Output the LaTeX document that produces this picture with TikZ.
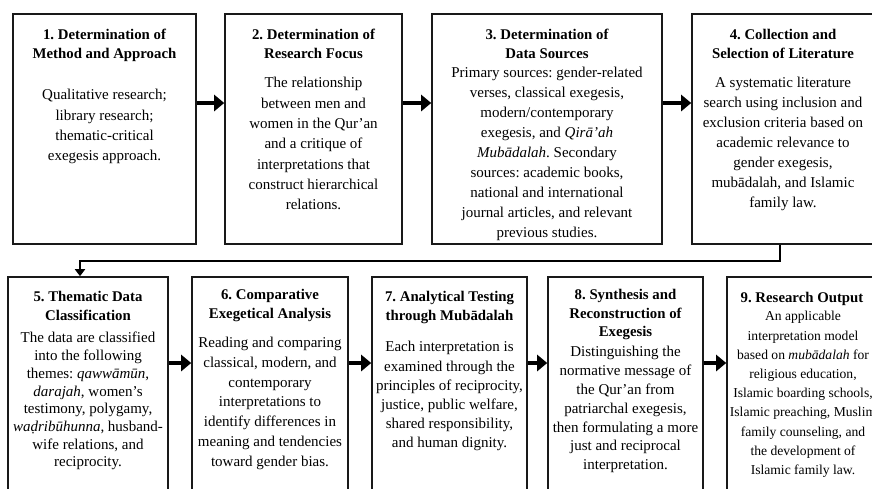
\documentclass[tikz,border=0pt]{standalone}
\usepackage{fontspec}
\setmainfont{Liberation Serif}
\usetikzlibrary{arrows.meta}
\frenchspacing

\tikzset{
    stagebox/.style={draw=black!90, line width=1.6pt, inner sep=0pt},
    stagetitle/.style={anchor=north, align=center, inner sep=0pt, font=\bfseries\fontsize{14.8}{18.5}\selectfont},
    stagetext/.style={anchor=north, align=center, inner sep=0pt, font=\fontsize{15}{20.3}\selectfont},
    flowarrow/.style={line width=3.5pt, -{Triangle[length=10pt,width=16pt]}},
    linkarrow/.style={line width=2pt, -{Triangle[length=7pt,width=10pt]}},
}

\begin{document}
\begin{tikzpicture}[x=1pt, y=-1pt]
    \useasboundingbox (0,0) rectangle (872,488);
    \clip (0,0) rectangle (872,488);
    % first row of stages
    \node[stagebox, minimum width=183pt, minimum height=230pt] (s1) at (104.5,129) {};
    \node[stagebox, minimum width=177pt, minimum height=230pt] (s2) at (313.5,129) {};
    \node[stagebox, minimum width=230pt, minimum height=230pt] (s3) at (547,129) {};
    \node[stagebox, minimum width=182pt, minimum height=230pt] (s4) at (783,129) {};
    % second row of stages
    \node[stagebox, minimum width=160pt, minimum height=224pt] (s5) at (88,389) {};
    \node[stagebox, minimum width=156pt, minimum height=224pt] (s6) at (270,389) {};
    \node[stagebox, minimum width=155pt, minimum height=224pt] (s7) at (449.5,389) {};
    \node[stagebox, minimum width=155pt, minimum height=224pt] (s8) at (625.5,389) {};
    \node[stagebox, minimum width=150pt, minimum height=224pt] (s9) at (802,389) {};

    \node[stagetitle] (t1) at ([yshift=-16pt]s1.north) {1. Determination of\\Method and Approach};
    \node[stagetext] (d1) at ([yshift=-76pt]s1.north) {Qualitative research;\\library research;\\thematic-critical\\exegesis approach.};

    \node[stagetitle] (t2) at ([yshift=-16pt]s2.north) {2. Determination of\\Research Focus};
    \node[stagetext] (d2) at ([yshift=-64pt]s2.north) {The relationship\\between men and\\women in the Qur’an\\and a critique of\\interpretations that\\construct hierarchical\\relations.};

    \node[stagetitle] (t3) at ([yshift=-16pt]s3.north) {3. Determination of\\Data Sources};
    \node[stagetext, font=\fontsize{15}{20}\selectfont] (d3) at ([yshift=-54pt]s3.north) {Primary sources: gender-related\\verses, classical exegesis,\\modern/contemporary\\exegesis, and \textit{Qirā’ah}\\\textit{Mubādalah}. Secondary\\sources: academic books,\\national and international\\journal articles, and relevant\\previous studies.};

    \node[stagetitle] (t4) at ([yshift=-16pt]s4.north) {4. Collection and\\Selection of Literature};
    \node[stagetext, font=\fontsize{15}{20}\selectfont] (d4) at ([yshift=-64pt]s4.north) {A systematic literature\\search using inclusion and\\exclusion criteria based on\\academic relevance to\\gender exegesis,\\mubādalah, and Islamic\\family law.};

    \node[stagetitle] (t5) at ([yshift=-15pt]s5.north) {5. Thematic Data\\Classification};
    \node[stagetext, font=\fontsize{15}{17.7}\selectfont] (d5) at ([yshift=-56pt]s5.north) {The data are classified\\into the following\\themes: \textit{qawwāmūn},\\\textit{darajah}, women’s\\testimony, polygamy,\\\textit{waḍribūhunna}, husband-\\wife relations, and\\reciprocity.};

    \node[stagetitle] (t6) at ([yshift=-13pt]s6.north) {6. Comparative\\Exegetical Analysis};
    \node[stagetext, font=\fontsize{15}{19.7}\selectfont] (d6) at ([yshift=-61pt]s6.north) {Reading and comparing\\classical, modern, and\\contemporary\\interpretations to\\identify differences in\\meaning and tendencies\\toward gender bias.};

    \node[stagetitle] (t7) at ([yshift=-15pt]s7.north) {7. Analytical Testing\\through Mubādalah};
    \node[stagetext, font=\fontsize{15}{19.2}\selectfont] (d7) at ([yshift=-65pt]s7.north) {Each interpretation is\\examined through the\\principles of reciprocity,\\justice, public welfare,\\shared responsibility,\\and human dignity.};

    \node[stagetitle] (t8) at ([yshift=-13pt]s8.north) {8. Synthesis and\\Reconstruction of\\Exegesis};
    \node[stagetext, font=\fontsize{15}{18.8}\selectfont] (d8) at ([yshift=-70pt]s8.north) {Distinguishing the\\normative message of\\the Qur’an from\\patriarchal exegesis,\\then formulating a more\\just and reciprocal\\interpretation.};

    \node[stagetitle] (t9) at ([yshift=-16pt]s9.north) {9. Research Output};
    \node[stagetext, font=\fontsize{13.6}{19.2}\selectfont] (d9) at ([xshift=1pt, yshift=-35pt]s9.north) {An applicable\\interpretation model\\based on \textit{mubādalah} for\\religious education,\\Islamic boarding schools,\\Islamic preaching, Muslim\\family counseling, and\\the development of\\Islamic family law.};

    % arrows between neighbouring stages
    \foreach \a/\b in {s1/s2, s2/s3, s3/s4, s5/s6, s6/s7, s7/s8, s8/s9}
        \draw[flowarrow] ([yshift=26pt]\a.east) -- ([yshift=26pt]\b.west);
    % wrap from the end of the first row to the start of the second
    \draw[linkarrow] (s4.south) ++(-3,0) -- ++(0,16) -| ([xshift=-8pt]s5.north);
\end{tikzpicture}
\end{document}
